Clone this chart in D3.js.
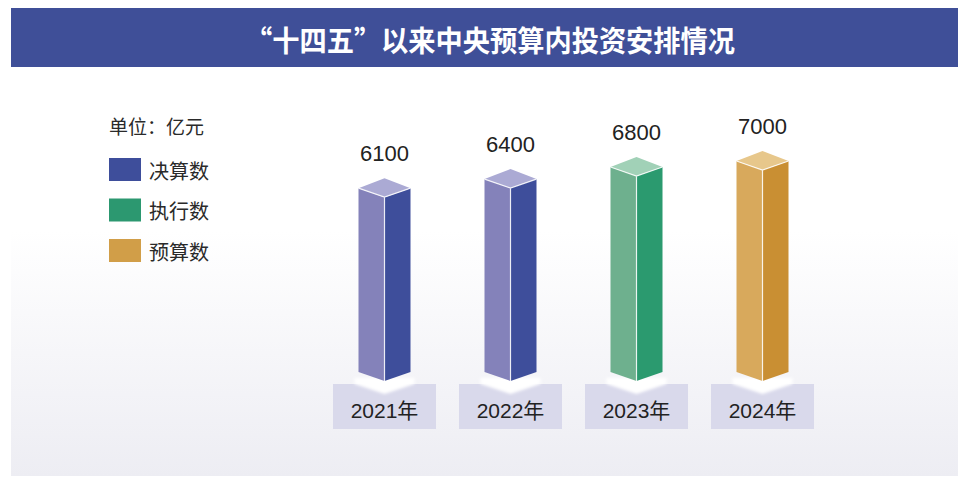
<!DOCTYPE html>
<html>
<head>
<meta charset="utf-8">
<script src="https://cdn.jsdelivr.net/npm/d3@7"></script>
<style>
  html, body { margin: 0; padding: 0; background: #fff; }
  svg { display: block; }
</style>
</head>
<body>
<div id="chart"></div>
<script>
const w = 958;
const h = 479;

// data
const title = "“十四五”以来中央预算内投资安排情况";
const unitLabel = "单位：亿元";
const years = ["2021年", "2022年", "2023年", "2024年"];
const values = [6100, 6400, 6800, 7000];
const kinds = ["决算数", "决算数", "执行数", "预算数"];
const legendLabels = ["决算数", "执行数", "预算数"];

// face colours per kind
const palette = {
    "决算数": { left: "#8482ba", right: "#3e4e9b", top: "#abaad4", key: "#3e4e9b" },
    "执行数": { left: "#6eb08e", right: "#2b9a6f", top: "#a1d1b7", key: "#2c9870" },
    "预算数": { left: "#d8a95c", right: "#c98f33", top: "#e7c78b", key: "#d19e48" }
};

const cjk = "'Noto Sans CJK SC', 'Noto Sans', sans-serif";
const latin = "'Liberation Sans', Arial, 'Noto Sans CJK SC', sans-serif";

let svg = d3.select("#chart").append("svg")
    .attr("width", w)
    .attr("height", h);

let defs = svg.append("defs");
let grad = defs.append("linearGradient")
    .attr("id", "bg")
    .attr("x1", 0).attr("y1", 0).attr("x2", 0).attr("y2", 1);
grad.append("stop").attr("offset", "0%").attr("stop-color", "#ffffff");
grad.append("stop").attr("offset", "40%").attr("stop-color", "#ffffff");
grad.append("stop").attr("offset", "100%").attr("stop-color", "#ededf3");

defs.append("filter").attr("id", "soft")
    .append("feGaussianBlur").attr("stdDeviation", 1.5);

// background panel
svg.append("rect")
    .attr("x", 11).attr("y", 67)
    .attr("width", w - 11).attr("height", 409)
    .attr("fill", "url(#bg)");

// title banner
svg.append("rect")
    .attr("x", 11).attr("y", 8)
    .attr("width", w - 11).attr("height", 59)
    .attr("fill", "#3f4f98");

svg.append("text")
    .attr("x", 490)
    .attr("y", 52)
    .attr("text-anchor", "middle")
    .attr("textLength", 490)
    .attr("lengthAdjust", "spacingAndGlyphs")
    .style("font-family", cjk)
    .style("font-size", "29px")
    .style("font-weight", "bold")
    .attr("fill", "#ffffff")
    .text(title);

// legend
svg.append("text")
    .attr("x", 109)
    .attr("y", 134)
    .style("font-family", cjk)
    .style("font-size", "19px")
    .attr("fill", "#2a2a2a")
    .text(unitLabel);

let legend = svg.append("g")
    .selectAll("g")
    .data(legendLabels)
    .join("g")
    .attr("transform", (d, i) => "translate(109," + (158 + i * 40.5) + ")");

legend.append("rect")
    .attr("width", 32)
    .attr("height", 23)
    .attr("fill", d => palette[d].key);

legend.append("text")
    .attr("x", 40)
    .attr("y", 12)
    .attr("dominant-baseline", "central")
    .style("font-family", cjk)
    .style("font-size", "20px")
    .attr("fill", "#2a2a2a")
    .text(d => d);

// scales
const xScale = d3.scaleBand()
    .domain(years)
    .range([321.5, 825.5])
    .padding(0);

const yScale = d3.scaleLinear()
    .domain([0, 7000])
    .range([381, 170]);

const half = 26;   // half width of the block
const side = 9;    // drop from back/front vertex to side vertex

let dataset = years.map((y, i) => ({ year: y, value: values[i], kind: kinds[i] }));

let groups = svg.append("g")
    .selectAll("g")
    .data(dataset)
    .join("g");

// year boxes
groups.append("rect")
    .attr("x", d => xScale(d.year) + xScale.bandwidth() / 2 - 51.5)
    .attr("y", 384)
    .attr("width", 103)
    .attr("height", 45)
    .attr("fill", "#d9d9eb");

// white glow under the block
groups.append("polygon")
    .attr("points", d => {
        let cx = xScale(d.year) + xScale.bandwidth() / 2;
        return [[cx - 30, 378], [cx + 30, 378], [cx + 30, 384], [cx, 394], [cx - 30, 384]].join(" ");
    })
    .attr("fill", "#ffffff")
    .attr("filter", "url(#soft)");

groups.append("text")
    .attr("x", d => xScale(d.year) + xScale.bandwidth() / 2)
    .attr("y", 418)
    .attr("text-anchor", "middle")
    .style("font-family", latin)
    .style("font-size", "21px")
    .attr("fill", "#222222")
    .text(d => d.year);

// blocks
const base = yScale(0);

groups.append("polygon")   // left face
    .attr("points", d => {
        let cx = xScale(d.year) + xScale.bandwidth() / 2;
        let yt = yScale(d.value);
        return [[cx - half, yt - side], [cx, yt], [cx, base], [cx - half, base - side]].join(" ");
    })
    .attr("fill", d => palette[d.kind].left);

groups.append("polygon")   // right face
    .attr("points", d => {
        let cx = xScale(d.year) + xScale.bandwidth() / 2;
        let yt = yScale(d.value);
        return [[cx, yt], [cx + half, yt - side], [cx + half, base - side], [cx, base]].join(" ");
    })
    .attr("fill", d => palette[d.kind].right);

groups.append("polygon")   // top face
    .attr("points", d => {
        let cx = xScale(d.year) + xScale.bandwidth() / 2;
        let yt = yScale(d.value);
        return [[cx, yt], [cx - half, yt - side], [cx, yt - 2 * side - 1], [cx + half, yt - side]].join(" ");
    })
    .attr("fill", d => palette[d.kind].top);

// white edges
groups.append("path")
    .attr("d", d => {
        let cx = xScale(d.year) + xScale.bandwidth() / 2;
        let yt = yScale(d.value);
        return "M" + (cx - half) + "," + (yt - side) + "L" + cx + "," + yt + "L" + (cx + half) + "," + (yt - side) +
            "M" + cx + "," + yt + "L" + cx + "," + base;
    })
    .attr("fill", "none")
    .attr("stroke", "#ffffff")
    .attr("stroke-opacity", 0.85)
    .attr("stroke-width", 1.2);

// value labels
groups.append("text")
    .attr("x", d => xScale(d.year) + xScale.bandwidth() / 2)
    .attr("y", d => yScale(d.value) - 2 * side - 1 - 17)
    .attr("text-anchor", "middle")
    .style("font-family", latin)
    .style("font-size", "22px")
    .attr("fill", "#222222")
    .text(d => d.value);
</script>
</body>
</html>
